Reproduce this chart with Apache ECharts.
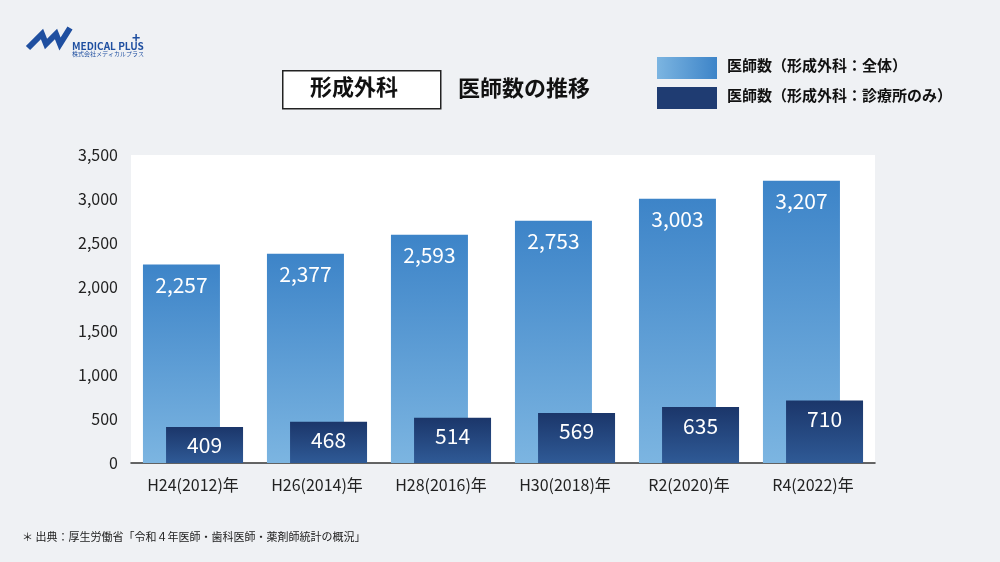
<!DOCTYPE html>
<html><head><meta charset="utf-8">
<script src="https://cdn.jsdelivr.net/npm/echarts@6/dist/echarts.min.js"></script>
<style>html,body{margin:0;padding:0;background:#eff1f4;}#c{width:1000px;height:562px;}</style>
</head><body><div id="c"></div>
<script>
var categories = ["H24(2012)年", "H26(2014)年", "H28(2016)年", "H30(2018)年", "R2(2020)年", "R4(2022)年"];
var totalDoctors = [2257, 2377, 2593, 2753, 3003, 3207];
var clinicDoctors = [409, 468, 514, 569, 635, 710];
var yTicks = [0, 500, 1000, 1500, 2000, 2500, 3000, 3500];

var font = "'Noto Sans CJK JP', 'Noto Sans', sans-serif";
var chart = echarts.init(document.getElementById("c"));
chart.setOption({
    backgroundColor: "#eff1f4",
    textStyle: { fontFamily: font },
    grid: { left: 131, right: 125, top: 155, bottom: 99, show: true, backgroundColor: "#ffffff", borderWidth: 0 },
    xAxis: {
        type: "category", data: categories,
        axisLine: { lineStyle: { color: "#333", width: 1.5 } },
        axisTick: { show: false },
        axisLabel: { color: "#222", fontSize: 16, margin: 14 }
    },
    yAxis: {
        type: "value", min: 0, max: yTicks[yTicks.length - 1], interval: 500,
        splitLine: { show: false },
        axisLine: { show: false }, axisTick: { show: false },
        axisLabel: { color: "#222", fontSize: 16, margin: 13,
            formatter: function (v) { return v.toLocaleString("en-US"); } }
    },
    series: [{
        name: "医師数（形成外科：全体）", type: "bar", barWidth: 77, barGap: "-70%",
        data: totalDoctors,
        itemStyle: { color: new echarts.graphic.LinearGradient(0, 0, 0, 1, [
            { offset: 0, color: "#3d84c8" }, { offset: 1, color: "#7cb5e1" }]) },
        label: { show: true, position: "insideTop", distance: 10, color: "#fff", fontSize: 21,
            formatter: function (p) { return p.value.toLocaleString("en-US"); } }
    }, {
        name: "医師数（形成外科：診療所のみ）", type: "bar", barWidth: 77,
        data: clinicDoctors,
        itemStyle: { color: new echarts.graphic.LinearGradient(0, 0, 0, 1, [
            { offset: 0, color: "#1b366a" }, { offset: 1, color: "#2f5a96" }]) },
        label: { show: true, position: "insideTop", distance: 8, color: "#fff", fontSize: 21 }
    }],
    graphic: [
        { type: "rect", left: 282, top: 70, shape: { width: 158, height: 38 },
          style: { fill: "#fff", stroke: "#222", lineWidth: 1.5 } },
        { type: "text", left: 310, top: 76, style: { text: "形成外科", font: "bold 22px " + font, fill: "#111" } },
        { type: "text", left: 458, top: 77, style: { text: "医師数の推移", font: "bold 22px " + font, fill: "#111" } },
        { type: "rect", left: 657, top: 57, shape: { width: 60, height: 22 },
          style: { fill: new echarts.graphic.LinearGradient(0, 0, 1, 0, [
            { offset: 0, color: "#7cb5e1" }, { offset: 1, color: "#3d84c8" }]) } },
        { type: "text", left: 727, top: 58, style: { text: "医師数（形成外科：全体）", font: "bold 15px " + font, fill: "#111" } },
        { type: "rect", left: 657, top: 87, shape: { width: 60, height: 22 },
          style: { fill: "#1f3c72" } },
        { type: "text", left: 727, top: 88, style: { text: "医師数（形成外科：診療所のみ）", font: "bold 15px " + font, fill: "#111" } },
        { type: "text", left: 72, top: 41, style: { text: "MEDICAL PLUS", font: "bold 10px " + font, fill: "#1f4fa0" } },
        { type: "text", left: 132, top: 31, style: { text: "+", font: "bold 14px " + font, fill: "#1f4fa0" } },
        { type: "text", left: 72, top: 51, style: { text: "株式会社メディカルプラス", font: "6px " + font, fill: "#1f4fa0" } },
        { type: "polyline", shape: { points: [[28, 48], [42, 34], [46, 44], [56, 34], [60, 44], [70, 28]] },
          style: { stroke: "#1f4fa0", lineWidth: 6, fill: null } },
        { type: "text", left: 22, top: 531, style: { text: "＊ 出典：厚生労働省「令和４年医師・歯科医師・薬剤師統計の概況」", font: "11px " + font, fill: "#222" } }
    ]
});
</script></body></html>
